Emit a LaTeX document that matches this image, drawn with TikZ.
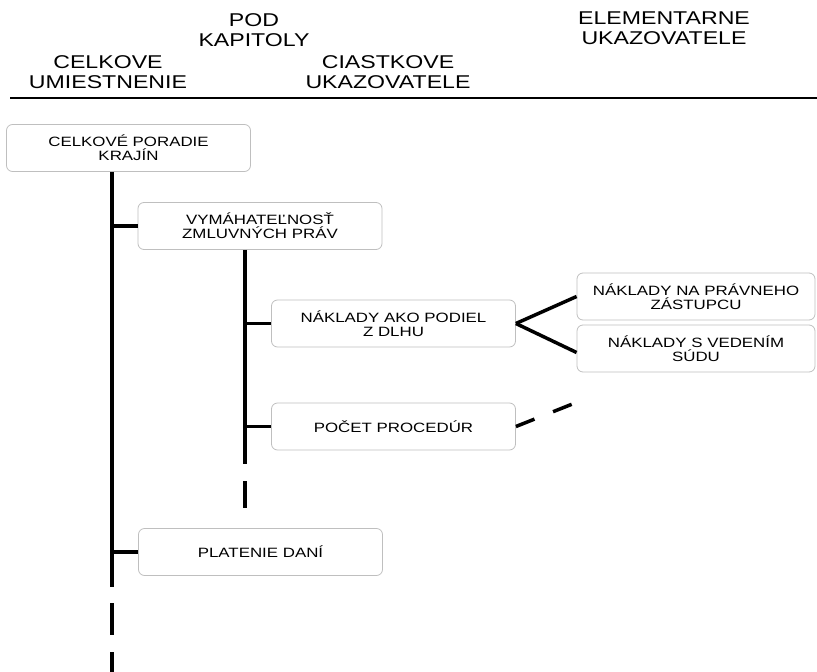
\documentclass[tikz,border=0pt]{standalone}
\usepackage{fontspec}
\setmainfont[FakeStretch=1.25]{Liberation Sans}
\usetikzlibrary{positioning}
\tikzset{
	hlavicka/.style={align=center, font=\fontsize{18.5}{20}\selectfont},
	ukazovatel/.style={rectangle, rounded corners=6pt, minimum width=244pt, minimum height=47pt, align=center, draw=black!25, line width=0.8pt, font=\fontsize{13.5}{14}\selectfont},
	link/.style={line width=3.5pt},
	trunk/.style={line width=4pt},
	dashlink/.style={line width=3.5pt, dash pattern=on 20pt off 20pt}
}

\begin{document}
\begin{tikzpicture}[x=1pt, y=-1pt]
		\useasboundingbox (0,0) rectangle (817,672);
		
		% Header
		\node (pod) [hlavicka] at (254,30) {POD\\KAPITOLY};
		\node (celk) [hlavicka] at (108,72) {CELKOVE\\UMIESTNENIE};
		\node (ciast) [hlavicka] at (388,72) {CIASTKOVE\\UKAZOVATELE};
		\node (elem) [hlavicka] at (664,28) {ELEMENTARNE\\UKAZOVATELE};
		\coordinate (ruleL) at (10,98);
		\coordinate (ruleR) at (817,98);
		\draw [line width=2pt] (ruleL) -- (ruleR);
		
		% Nodes
		\node (krajin) [ukazovatel] at (128.5,148) {CELKOVÉ PORADIE\\KRAJÍN};
		\node (vym) [ukazovatel] at (260,226) {VYMÁHATEĽNOSŤ\\ZMLUVNÝCH PRÁV};
		\node (podiel) [ukazovatel] at (393.5,323.5) {NÁKLADY AKO PODIEL\\Z DLHU};
		\node (pravny) [ukazovatel, minimum width=238pt] at (696,296.5) {NÁKLADY NA PRÁVNEHO\\ZÁSTUPCU};
		\node (sud) [ukazovatel, minimum width=238pt] at (696,348.5) {NÁKLADY S VEDENÍM\\SÚDU};
		\node (proc) [ukazovatel] at (393.5,426.5) {POČET PROCEDÚR};
		\node (dane) [ukazovatel] at (260.5,552) {PLATENIE DANÍ};
		
		% Trunks
		\coordinate (k1) at (112,587);
		\coordinate (k1a) at (112,603);
		\coordinate (k1b) at (112,672);
		\coordinate (k2) at (245,464);
		\coordinate (k2a) at (245,481);
		\coordinate (k2b) at (245,508);
		\coordinate (dalsi) at (580,401);
		\draw [trunk] (krajin.south -| k1) -- (k1);
		\draw [trunk, dash pattern=on 32pt off 17pt] (k1a) -- (k1b);
		\draw [trunk] (vym.south -| k2) -- (k2);
		\draw [trunk] (k2a) -- (k2b);
		
		% Links
		\draw [link] (vym.west -| k1) -- (vym.west);
		\draw [link] (dane.west -| k1) -- (dane.west);
		\draw [link] (podiel.west -| k2) -- (podiel.west);
		\draw [link] (proc.west -| k2) -- (proc.west);
		\draw [link] (podiel.east) -- (pravny.west);
		\draw [link] (podiel.east) -- ([yshift=-4pt]sud.west);
		\draw [dashlink] (proc.east) -- (dalsi);
		
	\end{tikzpicture}
\end{document}
